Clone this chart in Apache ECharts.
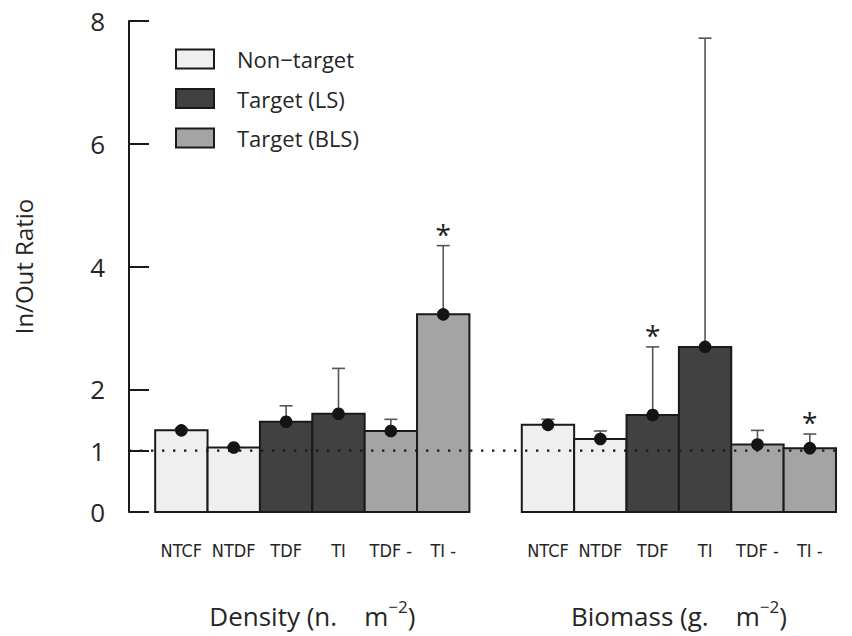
<!DOCTYPE html>
<html>
<head>
<meta charset="utf-8">
<script src="https://cdn.jsdelivr.net/npm/echarts@6/dist/echarts.min.js"></script>
<style>
  html, body { margin: 0; padding: 0; background: #ffffff; }
  #chart { width: 852px; height: 636px; }
</style>
</head>
<body>
<div id="chart"></div>
<script>
// Site categories (same order in both panels)
const categories = ['NTCF', 'NTDF', 'TDF', 'TI', 'TDF -', 'TI -'];
// Which group each category belongs to (index into groups)
const categoryGroup = [0, 0, 1, 1, 2, 2];
const groups = ['Non\u2212target', 'Target (LS)', 'Target (BLS)'];

// Density panel: mean in/out ratio, upper end of error bar, significance flag
const densityMean  = [1.33, 1.05, 1.47, 1.60, 1.32, 3.22];
const densityUpper = [1.36, 1.07, 1.73, 2.34, 1.51, 4.34];
const densitySignif = [0, 0, 0, 0, 0, 1];

// Biomass panel
const biomassMean  = [1.42, 1.19, 1.58, 2.69, 1.10, 1.04];
const biomassUpper = [1.51, 1.32, 2.69, 7.72, 1.33, 1.27];
const biomassSignif = [0, 0, 1, 0, 0, 1];

const panelTitles = ['Density', 'Biomass'];
const panelUnits = ['(n.    m', '(g.    m'];

const yTicks = [0, 1, 2, 4, 6, 8];
const referenceRatio = 1;

// ---- layout / style ----
const groupColors = ['#efefef', '#414141', '#a4a4a4'];
const edgeColor = '#1a1a1a';
const textColor = '#262626';
const mainFont = '"Open Sans", "Noto Sans", sans-serif';
const narrowFont = '"Liberation Sans Narrow", "DejaVu Sans Condensed", "Roboto", sans-serif';
const panelStart = [0, 7];         // slot index of the first bar in each panel
const xMin = -1, xMax = 12.5;       // slot range of the plotting area

const panels = [
  { mean: densityMean, upper: densityUpper, signif: densitySignif },
  { mean: biomassMean, upper: biomassUpper, signif: biomassSignif }
];

// rows per group: [slot, mean, upper, signif]
const groupRows = groups.map(() => []);
const allRows = [];
panels.forEach((p, pi) => {
  categories.forEach((c, ci) => {
    const row = [panelStart[pi] + ci, p.mean[ci], p.upper[ci], p.signif[ci]];
    groupRows[categoryGroup[ci]].push(row);
    allRows.push(row);
  });
});

const slotLabels = {};
panelStart.forEach(s => categories.forEach((c, ci) => { slotLabels[s + ci] = c; }));
const titleSlots = panelStart.map(s => s + (categories.length - 1) / 2);

function renderBar(params, api) {
  const x = api.value(0), m = api.value(1);
  const tl = api.coord([x - 0.5, m]);
  const br = api.coord([x + 0.5, 0]);
  return {
    type: 'rect',
    shape: { x: tl[0], y: tl[1], width: br[0] - tl[0], height: br[1] - tl[1] },
    style: { fill: api.visual('color'), stroke: edgeColor, lineWidth: 2 }
  };
}

function renderErr(params, api) {
  const x = api.value(0), m = api.value(1), u = api.value(2), s = api.value(3);
  const pm = api.coord([x, m]);
  const pu = api.coord([x, u]);
  const children = [
    { type: 'line', shape: { x1: pm[0], y1: pm[1], x2: pu[0], y2: pu[1] },
      style: { stroke: '#555555', lineWidth: 1.6 } },
    { type: 'line', shape: { x1: pu[0] - 6.5, y1: pu[1], x2: pu[0] + 6.5, y2: pu[1] },
      style: { stroke: '#555555', lineWidth: 1.6 } },
    { type: 'circle', shape: { cx: pm[0], cy: pm[1], r: 6.3 },
      style: { fill: '#141414' } }
  ];
  if (s) {
    children.push({ type: 'text', x: pu[0], y: pu[1] + 2,
      style: { text: '*', fontSize: 28, fontFamily: mainFont, fill: '#222',
               align: 'center', verticalAlign: 'bottom' } });
  }
  return { type: 'group', children };
}

function renderRef(params, api) {
  const a = api.coord([xMin, api.value(0)]);
  const b = api.coord([xMax, api.value(0)]);
  return { type: 'line', shape: { x1: a[0], y1: a[1], x2: b[0], y2: b[1] },
    style: { stroke: '#1a1a1a', lineWidth: 2.4, lineDash: [2.4, 8.6] } };
}

const chart = echarts.init(document.getElementById('chart'), null, { renderer: 'svg' });

const series = groups.map((g, gi) => ({
  name: g, type: 'custom', renderItem: renderBar, data: groupRows[gi], z: 2,
  itemStyle: { color: groupColors[gi], borderColor: edgeColor, borderWidth: 2 },
  encode: { x: 0, y: 1 }, animation: false
}));
series.push({ type: 'custom', renderItem: renderRef, data: [[referenceRatio]], z: 3,
  encode: { y: 0 }, animation: false, silent: true });
series.push({ type: 'custom', renderItem: renderErr, data: allRows, z: 4,
  encode: { x: 0, y: [1, 2] }, animation: false });

chart.setOption({
  animation: false,
  backgroundColor: '#ffffff',
  grid: { left: 129, right: 16, top: 21, bottom: 124 },
  legend: {
    orient: 'vertical', left: 170, top: 43,
    itemWidth: 38, itemHeight: 19, itemGap: 17.5, icon: 'rect',
    textStyle: { fontSize: 22, fontFamily: mainFont, color: textColor, padding: [0, 0, 0, 18] },
    data: groups.map((g, gi) => ({ name: g,
      itemStyle: { color: groupColors[gi], borderColor: edgeColor, borderWidth: 2 } }))
  },
  xAxis: [
    {
      type: 'value', min: xMin, max: xMax, position: 'bottom',
      axisLine: { show: false }, axisTick: { show: false }, splitLine: { show: false },
      axisLabel: {
        customValues: Object.keys(slotLabels).map(Number),
        formatter: v => slotLabels[v] || '',
        margin: 29, fontSize: 18, fontFamily: narrowFont, color: textColor
      }
    },
    {
      type: 'value', min: xMin, max: xMax, position: 'bottom',
      axisLine: { show: false }, axisTick: { show: false }, splitLine: { show: false },
      axisLabel: {
        customValues: titleSlots,
        formatter: v => {
          const i = titleSlots.indexOf(v);
          return '{t|' + panelTitles[i] + ' ' + panelUnits[i] + '}{s|\u22122}{t|)}';
        },
        margin: 86,
        rich: {
          t: { fontSize: 26, fontFamily: mainFont, color: textColor },
          s: { fontSize: 17, fontFamily: mainFont, color: textColor, padding: [0, 0, 18, 0] }
        }
      }
    }
  ],
  yAxis: {
    type: 'value', min: 0, max: 8,
    name: 'In/Out Ratio', nameLocation: 'middle', nameGap: 94, nameRotate: 90,
    nameTextStyle: { fontSize: 24, fontFamily: mainFont, color: textColor },
    axisLine: { show: true, onZero: false, lineStyle: { color: '#1a1a1a', width: 2 } },
    axisTick: { show: true, inside: true, length: 20, customValues: yTicks,
      lineStyle: { color: '#1a1a1a', width: 2 } },
    axisLabel: { customValues: yTicks, margin: 24, fontSize: 26, fontFamily: mainFont, color: textColor },
    splitLine: { show: false }
  },
  series
});
</script>
</body>
</html>
